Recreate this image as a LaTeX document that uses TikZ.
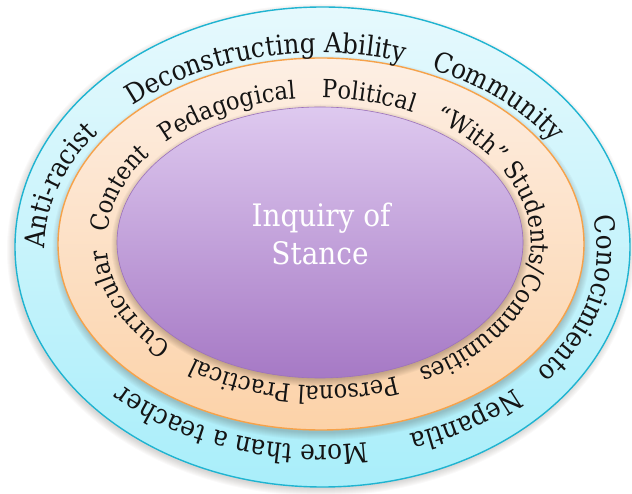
\documentclass[tikz,border=0pt]{standalone}
\usepackage{fontspec}
\newfontfamily\ringfamily{DejaVu Serif Condensed}
\usetikzlibrary{shapes.geometric,decorations.text}

\definecolor{skytop}{HTML}{E6F9FD}
\definecolor{skybot}{HTML}{A9EEFA}
\definecolor{skyline}{HTML}{1FB4D1}
\definecolor{peachtop}{HTML}{FDEFE4}
\definecolor{peachbot}{HTML}{FCD2A8}
\definecolor{peachline}{HTML}{F6A24A}
\definecolor{plumtop}{HTML}{DEC9EF}
\definecolor{plumbot}{HTML}{A679C5}
\definecolor{plumline}{HTML}{9C72BC}
\definecolor{inkcol}{HTML}{141414}
\definecolor{shadecol}{HTML}{3A2A20}

\newcommand\outerfont{\ringfamily\fontsize{27.5pt}{29pt}\selectfont}
\newcommand\innerfont{\ringfamily\fontsize{25pt}{27pt}\selectfont}
\newcommand\corefont{\ringfamily\fontsize{31pt}{38pt}\selectfont}

\tikzset{
  ring/.style={ellipse, inner sep=0pt, line width=1.4pt},
  outerword/.style={decorate, decoration={text along path, text color=inkcol,
      text={|\outerfont|#1}}},
  innerword/.style={decorate, decoration={text along path, text color=inkcol,
      text={|\innerfont|#1}}},
  coreword/.style={text=white, font=\corefont, anchor=base, inner sep=0pt},
}

% soft shadow built from stacked translucent ellipses
\newcommand\softshadow[5]{%
  \foreach \k in {0,...,7}{%
    \pgfmathsetmacro\rxk{#3+8-\k}\pgfmathsetmacro\ryk{#4+8-\k}%
    \fill[shadecol, opacity=#5] (#1,#2) ellipse[x radius=\rxk pt, y radius=\ryk pt];
  }}

\begin{document}
\begin{tikzpicture}[x=1pt, y=1pt]
  \fill[white] (0,0) rectangle (632,493);
  \useasboundingbox (0,0) rectangle (632,493);

  % outer ring
  \softshadow{321}{243}{306}{238}{0.025}
  \node[ring, minimum width=615pt, minimum height=480pt, draw=skyline,
        top color=skytop, bottom color=skybot] (outer) at (322.5,246) {};

  % middle ring
  \softshadow{321.5}{245}{261}{184}{0.03}
  \node[ring, minimum width=526pt, minimum height=372pt, draw=peachline,
        top color=peachtop, bottom color=peachbot] (middle) at (321,249) {};

  % core
  \softshadow{320.5}{247.5}{201}{133}{0.04}
  \node[ring, minimum width=406pt, minimum height=271pt, draw=plumline, line width=0.6pt,
        top color=plumtop, bottom color=plumbot] (core) at (320,250.5) {};

  \node[coreword] (coreA) at (321,266) {Inquiry of};
  \node[coreword] (coreB) at (320,228) {Stance};

  % baselines of the ring texts
  \coordinate (OB) at (321,244);
  \coordinate (MB) at (319,251);

  % outer ring labels, clockwise
  \path[outerword={Anti-racist}] (OB) ++(180:276pt and 196pt)
    arc[start angle=180, end angle=60, x radius=276pt, y radius=196pt];
  \path[outerword={Deconstructing Ability}] (OB) ++(133:276pt and 196pt)
    arc[start angle=133, end angle=0, x radius=276pt, y radius=196pt];
  \path[outerword={Community}] (OB) ++(66.5:276pt and 196pt)
    arc[start angle=66.5, end angle=-50, x radius=276pt, y radius=196pt];
  \path[outerword={Conocimiento}] (OB) ++(9.4:276pt and 196pt)
    arc[start angle=9.4, end angle=-110, x radius=276pt, y radius=196pt];
  \path[outerword={Nepantla}] (OB) ++(-45.4:276pt and 196pt)
    arc[start angle=-45.4, end angle=-160, x radius=276pt, y radius=196pt];
  \path[outerword={More than a teacher}] (OB) ++(-80.4:276pt and 196pt)
    arc[start angle=-80.4, end angle=-200, x radius=276pt, y radius=196pt];

  % middle ring labels, clockwise
  \path[innerword={Content}] (MB) ++(176.4:212pt and 144pt)
    arc[start angle=176.4, end angle=60, x radius=212pt, y radius=144pt];
  \path[innerword={Pedagogical}] (MB) ++(136.3:212pt and 144pt)
    arc[start angle=136.3, end angle=20, x radius=212pt, y radius=144pt];
  \path[innerword={Political}] (MB) ++(89.2:212pt and 144pt)
    arc[start angle=89.2, end angle=-30, x radius=212pt, y radius=144pt];
  \path[innerword={“With” Students/Communities}] (MB) ++(57:212pt and 144pt)
    arc[start angle=57, end angle=-100, x radius=212pt, y radius=144pt];
  \path[innerword={Personal Practical}] (MB) ++(-68.5:212pt and 144pt)
    arc[start angle=-68.5, end angle=-190, x radius=212pt, y radius=144pt];
  \path[innerword={Curricular}] (MB) ++(225.8:212pt and 144pt)
    arc[start angle=225.8, end angle=110, x radius=212pt, y radius=144pt];
\end{tikzpicture}
\end{document}
